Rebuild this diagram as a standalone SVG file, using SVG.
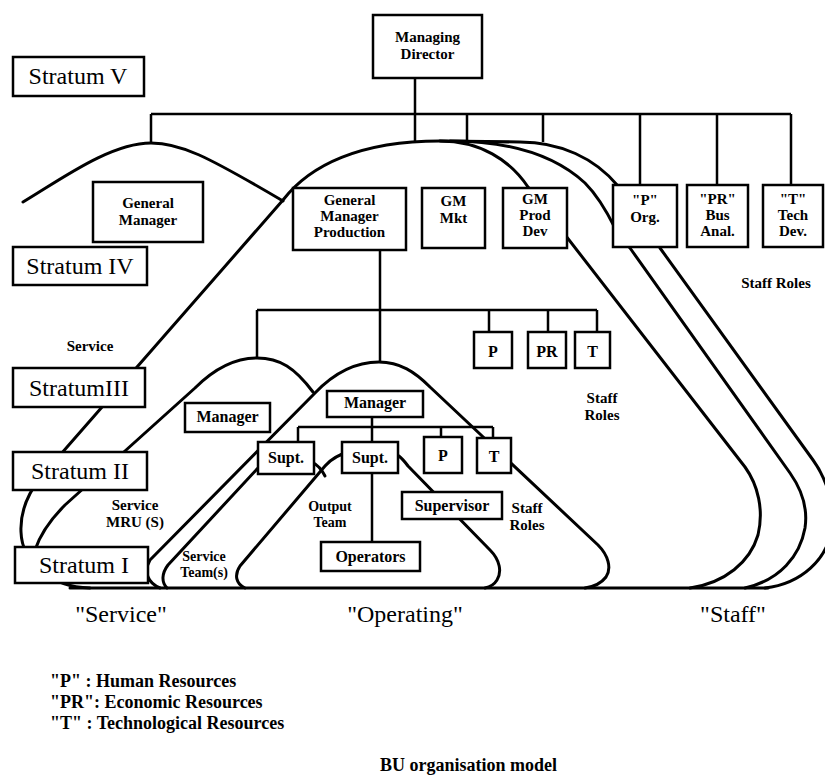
<svg xmlns="http://www.w3.org/2000/svg" width="825" height="776" viewBox="0 0 825 776">
<style>
 .c{fill:none;stroke:#000;stroke-width:3;stroke-linecap:round;stroke-linejoin:round}
 .k{fill:none;stroke:#000;stroke-width:2.5}
 .b{fill:#fff;stroke:#000;stroke-width:2.5}
 text{font-family:"Liberation Serif","Times New Roman",serif;fill:#000}
 .s{font-size:24px;text-anchor:middle}
 .n{font-size:16px;font-weight:bold;text-anchor:middle}
 .m{font-size:15px;font-weight:bold;text-anchor:middle}
 .l{font-size:15px;font-weight:bold;text-anchor:middle}
 .t{font-size:14px;font-weight:bold;text-anchor:middle}
 .g{font-size:18px;font-weight:bold}
</style>
<rect width="825" height="776" fill="#fff"/>
<g id="connectors">
 <path class="c" d="M23,202 C60,180 110,143 151,143 C180,143 205,155 283,201"/>
 <path class="c" d="M765,588 C800,584 829,560 832,525 C834,502 826,478 813,460 L660,248 L618,186 C595,158 560,142 520,142 L440,141"/>
 <path class="c" d="M745,588 C780,580 800,556 805,528 C808,508 802,490 790,473 L630,248 L615,228 C606,210 598,196 585,183 C560,160 520,141 450,141"/>
 <path class="c" d="M90,588 C50,587 22,562 21,532 C20,512 27,495 40,478 L283,200 C310,165 360,141 440,141 C480,141 510,160 528,187 L745,467 C758,485 764,510 758,535 C750,562 725,583 690,588"/>
 <path class="c" d="M313,392 C295,368 280,358 257,358 C235,358 215,368 195,388 L65,505 C50,520 40,535 35,550"/>
 <path class="c" d="M160,588 C148,583 143,572 150,560 L315,393 C335,372 355,362 379,362 C400,362 415,372 430,387 L598,545 C608,555 612,568 606,577 C600,585 592,587 585,588"/>
 <path class="c" d="M258,468 L168,565 C162,573 161,582 167,588"/>
 <path class="c" d="M312,462 C318,465 322,470 325,476"/>
 <path class="c" d="M245,588 C236,584 234,575 240,566 L325,466 C332,458 340,454 350,452 L390,452 C398,454 402,458 408,466 L490,550 C500,560 502,572 497,580 C494,585 490,587 485,588"/>
 <path class="c" d="M70,588 H768"/>
 <path class="k" d="M415,78 V141 M151,114 H791 M151,114 V143 M467,114 V141 M543,114 V142 M640,114 V185 M717,114 V185 M791,114 V185"/>
 <path class="k" d="M380,250 V362 M257,310 H597 M257,310 V358 M489,310 V332 M548,310 V332 M597,310 V332"/>
 <path class="k" d="M298,427 H493 M298,427 V442 M372,417 V442 M441,427 V437 M493,427 V438 M372,473 V542"/>
</g>
<g id="stratum-v"><rect class="b" x="13" y="57" width="131" height="39"/><text class="s" x="78" y="84">Stratum V</text></g>
<g id="stratum-iv"><rect class="b" x="13" y="247" width="134" height="38"/><text class="s" x="80" y="274">Stratum IV</text></g>
<g id="stratum-iii"><rect class="b" x="13" y="368" width="132" height="39"/><text class="s" x="79" y="396">StratumIII</text></g>
<g id="stratum-ii"><rect class="b" x="13" y="452" width="134" height="38"/><text class="s" x="80" y="479">Stratum II</text></g>
<g id="stratum-i"><rect class="b" x="15" y="547" width="133" height="36"/><text class="s" x="84" y="573">Stratum I</text></g>
<g id="managing-director"><rect class="b" x="373" y="15" width="109" height="63"/><text class="m" x="427.5" y="42">Managing</text><text class="m" x="427.5" y="59">Director</text></g>
<g id="general-manager"><rect class="b" x="93" y="182" width="110" height="60"/><text class="m" x="148" y="208">General</text><text class="m" x="148" y="225">Manager</text></g>
<g id="gm-production"><rect class="b" x="293" y="188" width="113" height="62"/><text class="m" x="349.5" y="205">General</text><text class="m" x="349.5" y="221">Manager</text><text class="m" x="349.5" y="237">Production</text></g>
<g id="gm-mkt"><rect class="b" x="422" y="188" width="63" height="60"/><text class="m" x="453.5" y="206">GM</text><text class="m" x="453.5" y="223">Mkt</text></g>
<g id="gm-prod-dev"><rect class="b" x="503" y="188" width="64" height="60"/><text class="m" x="535" y="204">GM</text><text class="m" x="535" y="220">Prod</text><text class="m" x="535" y="236">Dev</text></g>
<g id="p-org"><rect class="b" x="613" y="185" width="64" height="62"/><text class="m" x="645" y="205">&quot;P&quot;</text><text class="m" x="645" y="222">Org.</text></g>
<g id="pr-bus-anal"><rect class="b" x="687" y="185" width="61" height="62"/><text class="m" x="717.5" y="204">&quot;PR&quot;</text><text class="m" x="717.5" y="220">Bus</text><text class="m" x="717.5" y="236">Anal.</text></g>
<g id="t-tech-dev"><rect class="b" x="763" y="185" width="60" height="62"/><text class="m" x="793" y="204">&quot;T&quot;</text><text class="m" x="793" y="220">Tech</text><text class="m" x="793" y="236">Dev.</text></g>
<g id="p-mid"><rect class="b" x="474" y="332" width="38" height="36"/><text class="n" x="493" y="357">P</text></g>
<g id="pr-mid"><rect class="b" x="528" y="332" width="38" height="36"/><text class="n" x="547" y="357">PR</text></g>
<g id="t-mid"><rect class="b" x="575" y="332" width="35" height="36"/><text class="n" x="592.5" y="357">T</text></g>
<g id="manager-service"><rect class="b" x="185" y="403" width="85" height="29"/><text class="n" x="227.5" y="422">Manager</text></g>
<g id="manager-operating"><rect class="b" x="327" y="391" width="96" height="26"/><text class="n" x="375" y="408">Manager</text></g>
<g id="supt-1"><rect class="b" x="258" y="442" width="56" height="32"/><text class="n" x="286" y="463">Supt.</text></g>
<g id="supt-2"><rect class="b" x="342" y="442" width="56" height="31"/><text class="n" x="370" y="463">Supt.</text></g>
<g id="p-op"><rect class="b" x="424" y="437" width="38" height="36"/><text class="n" x="443" y="461">P</text></g>
<g id="t-op"><rect class="b" x="477" y="438" width="34" height="35"/><text class="n" x="494" y="462">T</text></g>
<g id="supervisor"><rect class="b" x="402" y="492" width="100" height="27"/><text class="n" x="452" y="511">Supervisor</text></g>
<g id="operators"><rect class="b" x="321" y="542" width="99" height="29"/><text class="n" x="370.5" y="562">Operators</text></g>
<g id="labels">
 <text class="l" x="90" y="351">Service</text>
 <text class="l" x="135" y="510">Service</text><text class="l" x="135" y="527">MRU (S)</text>
 <text class="t" x="204" y="561">Service</text><text class="t" x="204" y="577">Team(s)</text>
 <text class="t" x="330" y="511">Output</text><text class="t" x="330" y="527">Team</text>
 <text class="l" x="527" y="513">Staff</text><text class="l" x="527" y="530">Roles</text>
 <text class="l" x="602" y="403">Staff</text><text class="l" x="602" y="420">Roles</text>
 <text class="l" x="776" y="288">Staff Roles</text>
 <text class="s" x="121" y="622">&quot;Service&quot;</text>
 <text class="s" x="405" y="622">&quot;Operating&quot;</text>
 <text class="s" x="733" y="622">&quot;Staff&quot;</text>
 <text class="g" x="50" y="687">&quot;P&quot; : Human Resources</text>
 <text class="g" x="50" y="708">&quot;PR&quot;: Economic Resources</text>
 <text class="g" x="50" y="729">&quot;T&quot; : Technological Resources</text>
 <text class="g" x="380" y="771">BU organisation model</text>
</g>
</svg>
